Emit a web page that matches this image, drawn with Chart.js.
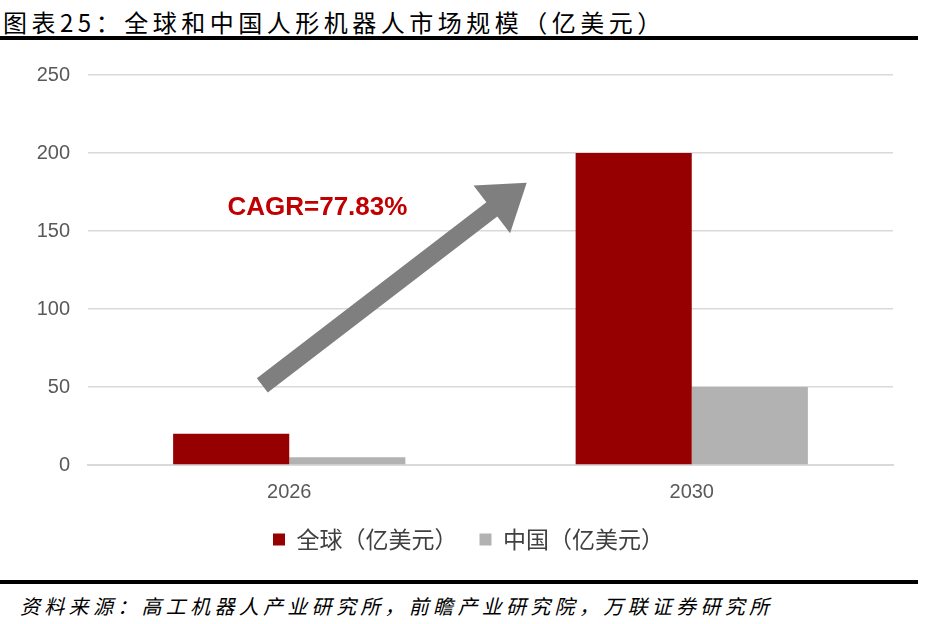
<!DOCTYPE html>
<html>
<head>
<meta charset="utf-8">
<script src="https://cdn.jsdelivr.net/npm/chart.js@4/dist/chart.umd.min.js"></script>
<style>
  html, body { margin: 0; padding: 0; background: #fff; }
  body { width: 929px; height: 624px; position: relative; overflow: hidden; }
  #title {
    position: absolute; left: 3px; top: 4px;
    font: 24px "Noto Sans CJK SC", sans-serif; letter-spacing: 4.5px; color: #000;
    white-space: nowrap;
  }
  .rule { position: absolute; left: 0; width: 918px; height: 4px; background: #000; }
  #wrap { position: absolute; left: 0; top: 45px; width: 929px; height: 530px; }
  #source {
    position: absolute; left: 20px; top: 591px;
    font: italic 20px "Noto Sans CJK SC", sans-serif; letter-spacing: 4.3px; color: #000;
    white-space: nowrap;
  }
</style>
</head>
<body>
<div id="title">图表25：全球和中国人形机器人市场规模（亿美元）</div>
<div class="rule" style="top:36px"></div>
<div id="wrap"><canvas id="chart"></canvas></div>
<div class="rule" style="top:580px"></div>
<div id="source">资料来源：高工机器人产业研究所，前瞻产业研究院，万联证券研究所</div>

<script>
// 数据
const years = ['2026', '2030'];
const globalVals = [20, 200];
const chinaVals = [5, 50];
const yTicks = [0, 50, 100, 150, 200, 250];
const cagrText = 'CAGR=77.83%';

// 箭头（数据坐标：类别索引, y 值）
const arrowFrom = [-0.067, 51];
const arrowTo = [0.59, 181];

const arrowPlugin = {
  id: 'arrow',
  afterLayout(chart) {
    // 图例整体右移，与原图对齐
    if (chart.legend) {
      chart.legend.left += 22;
      chart.legend.right += 22;
    }
  },
  afterDatasetsDraw(chart) {
    const { ctx, scales: { x, y } } = chart;
    const x0 = x.getPixelForValue(arrowFrom[0]);
    const y0 = y.getPixelForValue(arrowFrom[1]);
    const x1 = x.getPixelForValue(arrowTo[0]);
    const y1 = y.getPixelForValue(arrowTo[1]);
    const ang = Math.atan2(y1 - y0, x1 - x0);
    const len = Math.hypot(x1 - x0, y1 - y0);
    const headLen = 44, headW = 30, shaftW = 9;
    ctx.save();
    ctx.translate(x0, y0);
    ctx.rotate(ang);
    ctx.fillStyle = '#7f7f7f';
    ctx.beginPath();
    ctx.moveTo(0, -shaftW);
    ctx.lineTo(len - headLen, -shaftW);
    ctx.lineTo(len - headLen, -headW);
    ctx.lineTo(len, 0);
    ctx.lineTo(len - headLen, headW);
    ctx.lineTo(len - headLen, shaftW);
    ctx.lineTo(0, shaftW);
    ctx.closePath();
    ctx.fill();
    ctx.restore();

    ctx.save();
    ctx.fillStyle = '#c00000';
    ctx.font = 'bold 26px "Liberation Sans", Arial, sans-serif';
    ctx.textAlign = 'center';
    ctx.textBaseline = 'middle';
    ctx.fillText(cagrText, x.getPixelForValue(0.07), y.getPixelForValue(165));
    ctx.restore();
  }
};

new Chart(document.getElementById('chart'), {
  type: 'bar',
  data: {
    labels: years,
    datasets: [{
      label: '全球（亿美元）',
      data: globalVals,
      backgroundColor: '#960000',
      borderWidth: 0
    }, {
      label: '中国（亿美元）',
      data: chinaVals,
      backgroundColor: '#b2b2b2',
      borderWidth: 0
    }]
  },
  options: {
    responsive: true,
    maintainAspectRatio: false,
    animation: false,
    layout: { padding: { left: 0, right: 36, top: 30, bottom: 14 } },
    datasets: { bar: { categoryPercentage: 0.577, barPercentage: 1 } },
    scales: {
      x: {
        afterFit(s) { s.height -= 5; },
        grid: { display: false },
        border: { display: true, color: '#d9d9d9', width: 2 },
        ticks: { color: '#595959', font: { size: 20, family: '"Liberation Sans", Arial, sans-serif' }, padding: 7 }
      },
      y: {
        min: 0, max: 250,
        afterFit(s) { s.width = 88; },
        afterBuildTicks(s) { s.ticks = yTicks.map(v => ({ value: v })); },
        grid: { color: '#d9d9d9', lineWidth: 1.5, drawTicks: false },
        border: { display: false },
        ticks: { color: '#595959', font: { size: 20, family: '"Liberation Sans", Arial, sans-serif' }, padding: 18 }
      }
    },
    plugins: {
      legend: {
        position: 'bottom',
        labels: {
          boxWidth: 12, boxHeight: 12, padding: 22,
          color: '#404040',
          font: { size: 23, family: '"Noto Sans CJK SC", sans-serif' }
        }
      },
      tooltip: { enabled: false }
    }
  },
  plugins: [arrowPlugin]
});
</script>
</body>
</html>
